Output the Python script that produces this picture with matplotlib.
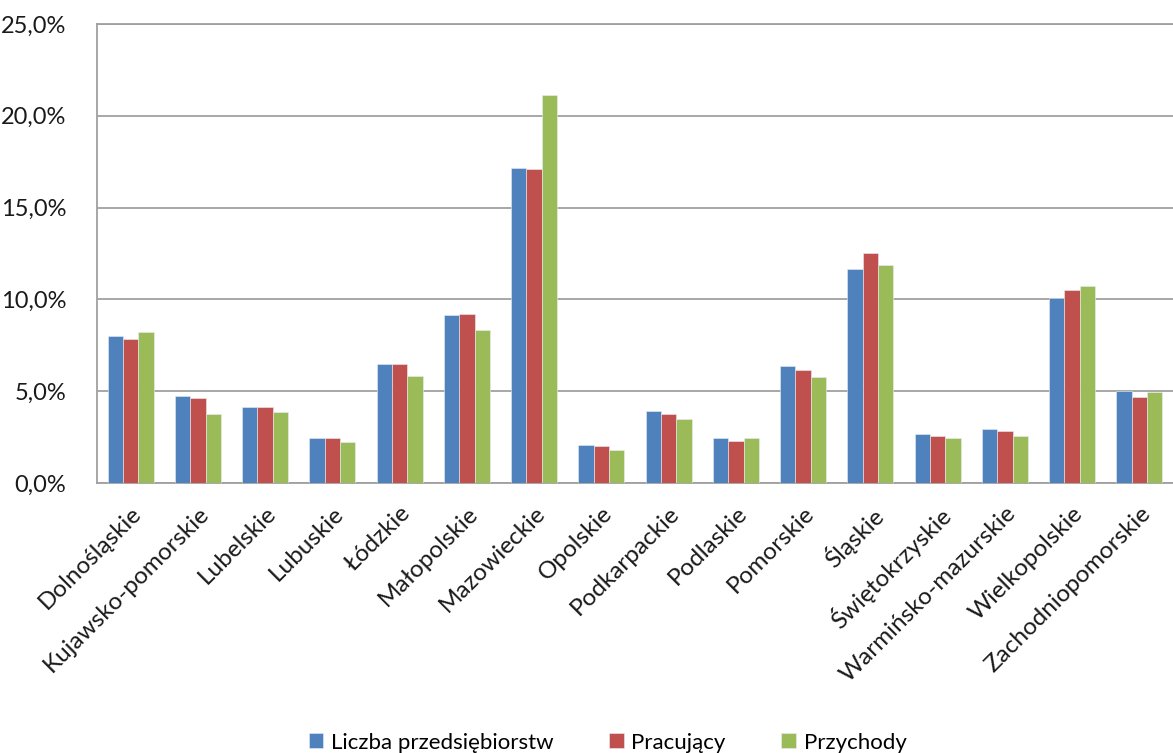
import numpy as np
import matplotlib.pyplot as plt
from matplotlib.ticker import FuncFormatter

# dane (udział w %)
regions = ["Dolnośląskie", "Kujawsko-pomorskie", "Lubelskie", "Lubuskie", "Łódzkie",
           "Małopolskie", "Mazowieckie", "Opolskie", "Podkarpackie", "Podlaskie",
           "Pomorskie", "Śląskie", "Świętokrzyskie", "Warmińsko-mazurskie",
           "Wielkopolskie", "Zachodniopomorskie"]
firms = [8.03, 4.75, 4.13, 2.44, 6.50, 9.16, 17.13, 2.09, 3.90, 2.46, 6.35, 11.64, 2.67, 2.93, 10.10, 5.01]
workers = [7.83, 4.62, 4.13, 2.44, 6.50, 9.23, 17.08, 2.04, 3.78, 2.26, 6.15, 12.54, 2.58, 2.84, 10.52, 4.68]
revenue = [8.20, 3.77, 3.84, 2.24, 5.81, 8.32, 21.11, 1.77, 3.49, 2.46, 5.79, 11.90, 2.46, 2.58, 10.73, 4.93]

series = [("Liczba przedsiębiorstw", firms, "#4F81BD"),
          ("Pracujący", workers, "#C0504D"),
          ("Przychody", revenue, "#9BBB59")]

plt.rcParams['font.family'] = ['Lato', 'DejaVu Sans']

fig = plt.figure(figsize=(11.73, 7.53), dpi=100)
ax = fig.add_axes([0.0827, 0.3586, 0.9173, 0.6095])

x = np.arange(len(regions))
w = 0.228
for i, (name, vals, col) in enumerate(series):
    ax.bar(x + (i - 1) * w, np.array(vals) / 100, width=w, color=col,
           edgecolor="#e8eef5", linewidth=0.4, label=name, zorder=3)

ax.set_xlim(-0.5, len(regions) - 0.5)
ax.set_ylim(0, 0.25)
ax.set_yticks(np.arange(0, 0.2501, 0.05))
ax.yaxis.set_major_formatter(FuncFormatter(lambda v, p: f"{v * 100:.1f}%".replace(".", ",")))
ax.grid(axis="y", color="#a0a0a0", linewidth=1.3, zorder=0)

for s in ["left", "bottom", "top"]:
    ax.spines[s].set_color("#a0a0a0")
    ax.spines[s].set_linewidth(1.3)
ax.spines["right"].set_visible(False)

ax.tick_params(axis="y", length=0, labelsize=17, pad=22, colors="#1a1a1a")
ax.tick_params(axis="x", length=0, labelsize=17.5, pad=14, colors="#1a1a1a")
ax.set_xticks(x)
ax.set_xticklabels(regions, rotation=45, ha="right", rotation_mode="anchor")

fig.legend(loc="lower center", bbox_to_anchor=(0.518, -0.026), ncol=3, frameon=False,
           fontsize=16, handlelength=0.65, handleheight=0.65, handletextpad=0.35,
           columnspacing=2.5)

fig.savefig("out.png", dpi=100)
